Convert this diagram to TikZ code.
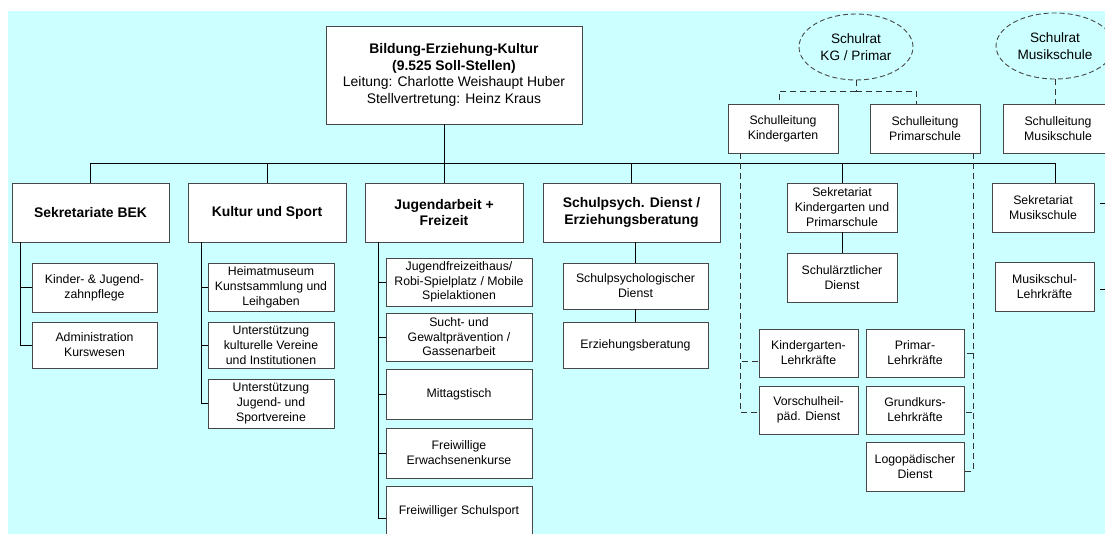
\documentclass[tikz,border=0pt]{standalone}
\usepackage{fontspec}
\setmainfont{Liberation Sans}
\usetikzlibrary{shapes.geometric}
\definecolor{bgc}{RGB}{204,255,255}
\begin{document}
\begin{tikzpicture}[x=1pt,y=-1pt,
  box/.style={draw=black!72,line width=0.9pt,fill=white,align=center,inner sep=0pt,font=\fontsize{12.3}{15}\selectfont},
  hbox/.style={box,font=\fontsize{13.9}{16.5}\selectfont\bfseries},
  oval/.style={ellipse,draw=black!72,line width=0.9pt,dash pattern=on 5pt off 3pt,align=center,inner sep=0pt,font=\fontsize{13.6}{16.5}\selectfont},
  conn/.style={draw=black,line width=0.8pt},
  dconn/.style={draw=black!80,line width=0.8pt,dash pattern=on 6pt off 4pt}]
\useasboundingbox (0,0) rectangle (1105,534);
\fill[bgc] (8,11) rectangle (1105,534);

% top
\node[box,minimum width=256pt,minimum height=98pt,font=\fontsize{13.9}{16.5}\selectfont] (top) at (454,75)
  {\textbf{Bildung-Erziehung-Kultur}\\\textbf{(9.525 Soll-Stellen)}\\Leitung: Charlotte Weishaupt Huber\\Stellvertretung: Heinz Kraus};

% ellipses and school leaders
\node[oval,minimum width=114pt,minimum height=66pt] (skp) at (856,47) {Schulrat\\KG / Primar};
\node[oval,minimum width=118pt,minimum height=66pt] (smr) at (1055,46) {Schulrat\\Musikschule};
\node[box,minimum width=110pt,minimum height=49pt] (slkg) at (783,128.5) {Schulleitung\\Kindergarten};
\node[box,minimum width=110pt,minimum height=49pt] (slpr) at (925,128.5) {Schulleitung\\Primarschule};
\node[box,minimum width=110pt,minimum height=49pt] (slmu) at (1058,128.5) {Schulleitung\\Musikschule};

% headers
\node[hbox,minimum width=157pt,minimum height=59pt] (bek) at (90.5,212.5) {Sekretariate BEK};
\node[hbox,minimum width=158pt,minimum height=59pt] (kul) at (267,212.5) {Kultur und Sport};
\node[hbox,minimum width=158pt,minimum height=59pt] (jug) at (444,212.5) {Jugendarbeit +\\Freizeit};
\node[hbox,minimum width=177pt,minimum height=59pt] (sp) at (631.5,212.5) {Schulpsych. Dienst /\\Erziehungsberatung};
\node[box,minimum width=110pt,minimum height=49pt] (skg) at (842,207.5) {Sekretariat\\Kindergarten und\\Primarschule};
\node[box,minimum width=102pt,minimum height=49pt] (smus) at (1043,207.5) {Sekretariat\\Musikschule};

% BEK
\node[box,minimum width=125pt,minimum height=49pt] (zahn) at (94.5,287.5) {Kinder- \& Jugend-\\zahnpflege};
\node[box,minimum width=125pt,minimum height=46pt] (adm) at (94.5,345) {Administration\\Kurswesen};

% Kultur
\node[box,minimum width=126pt,minimum height=48pt] (heim) at (271,287) {Heimatmuseum\\Kunstsammlung und\\Leihgaben};
\node[box,minimum width=126pt,minimum height=46pt] (ukv) at (271,345) {Unterstützung\\kulturelle Vereine\\und Institutionen};
\node[box,minimum width=126pt,minimum height=49pt] (ujs) at (271,403.5) {Unterstützung\\Jugend- und\\Sportvereine};

% Jugend
\node[box,minimum width=146pt,minimum height=48pt,font=\fontsize{12.3}{14.5}\selectfont] (jfh) at (459,282) {Jugendfreizeithaus/\\Robi-Spielplatz / Mobile\\Spielaktionen};
\node[box,minimum width=146pt,minimum height=48pt,font=\fontsize{12.3}{14.5}\selectfont] (sucht) at (459,337) {Sucht- und\\Gewaltprävention /\\Gassenarbeit};
\node[box,minimum width=146pt,minimum height=50pt] (mit) at (459,394) {Mittagstisch};
\node[box,minimum width=146pt,minimum height=50pt] (erw) at (459,453) {Freiwillige\\Erwachsenenkurse};
\node[box,minimum width=146pt,minimum height=50pt] (ssp) at (459,511) {Freiwilliger Schulsport};

% Schulpsych
\node[box,minimum width=145pt,minimum height=46pt] (spd) at (635.5,286) {Schulpsychologischer\\Dienst};
\node[box,minimum width=145pt,minimum height=46pt] (erz) at (635.5,345) {Erziehungsberatung};

% KG / Primar
\node[box,minimum width=110pt,minimum height=49pt] (sad) at (842,277.5) {Schulärztlicher\\Dienst};
\node[box,minimum width=99pt,minimum height=48pt] (kgl) at (808.5,353) {Kindergarten-\\Lehrkräfte};
\node[box,minimum width=99pt,minimum height=48pt] (vsp) at (808.5,410) {Vorschulheil-\\päd. Dienst};
\node[box,minimum width=98pt,minimum height=48pt] (prl) at (915,353) {Primar-\\Lehrkräfte};
\node[box,minimum width=98pt,minimum height=48pt] (gkl) at (915,410) {Grundkurs-\\Lehrkräfte};
\node[box,minimum width=98pt,minimum height=49pt] (logo) at (915,466.5) {Logopädischer\\Dienst};

% Musikschule
\node[box,minimum width=99pt,minimum height=49pt] (mlk) at (1044.5,286.5) {Musikschul-\\Lehrkräfte};

% bus
\coordinate (busR) at (1055,163);
\draw[conn] (bek.north) |- (busR) -- (busR |- smus.north);
\draw[conn] (kul.north) -- (kul.north |- busR);
\draw[conn] (top.south -| jug.north) -- (jug.north);
\draw[conn] (sp.north) -- (sp.north |- busR);
\draw[conn] (skg.north) -- (skg.north |- busR);

% BEK stem
\coordinate (bekS) at (20,242);
\draw[conn] (bekS) |- (zahn.west);
\draw[conn] (bekS) |- (adm.west);
% Kultur stem
\coordinate (kulS) at (201,242);
\draw[conn] (kulS) |- (heim.west);
\draw[conn] (kulS) |- (ukv.west);
\draw[conn] (kulS) |- (ujs.west);
% Jugend stem
\coordinate (jugS) at (378,242);
\draw[conn] (jugS) |- (jfh.west);
\draw[conn] (jugS) |- (sucht.west);
\draw[conn] (jugS) |- (mit.west);
\draw[conn] (jugS) |- (erw.west);
\draw[conn] (jugS) |- ([yshift=-7pt]ssp.west);
% Schulpsych
\draw[conn] (spd.north) -- (spd.north |- sp.south);
\draw[conn] (spd) -- (erz);
% Sekretariat KG
\draw[conn] (skg) -- (sad);

% dashed Schulrat
\coordinate (dmid) at (856,91);
\draw[dconn] (skp.south) -- (dmid);
\draw[dconn] (dmid) -| ([xshift=-4pt]slkg.north);
\draw[dconn] (dmid) -| ([xshift=-9pt]slpr.north);
\draw[dconn] (smr.south) -- (smr.south |- slmu.north);

% dashed leaders
\coordinate (kgD) at (740,153);
\draw[dconn] (kgD) |- ([yshift=-8pt]kgl.west);
\draw[dconn] (kgD) |- ([yshift=-2pt]vsp.west);
\coordinate (prD) at (973,153);
\draw[dconn] (prD) |- (prl.east);
\draw[dconn] (prD) |- ([yshift=-2pt]gkl.east);
\draw[dconn] (prD) |- ([yshift=-4.5pt]logo.east);

% stubs to the right edge
\coordinate (stubA) at (1100,203);
\coordinate (stubB) at (1100,289);
\draw[conn] (stubA) -- ++(10,0);
\draw[conn] (stubB) -- ++(10,0);
\end{tikzpicture}
\end{document}
